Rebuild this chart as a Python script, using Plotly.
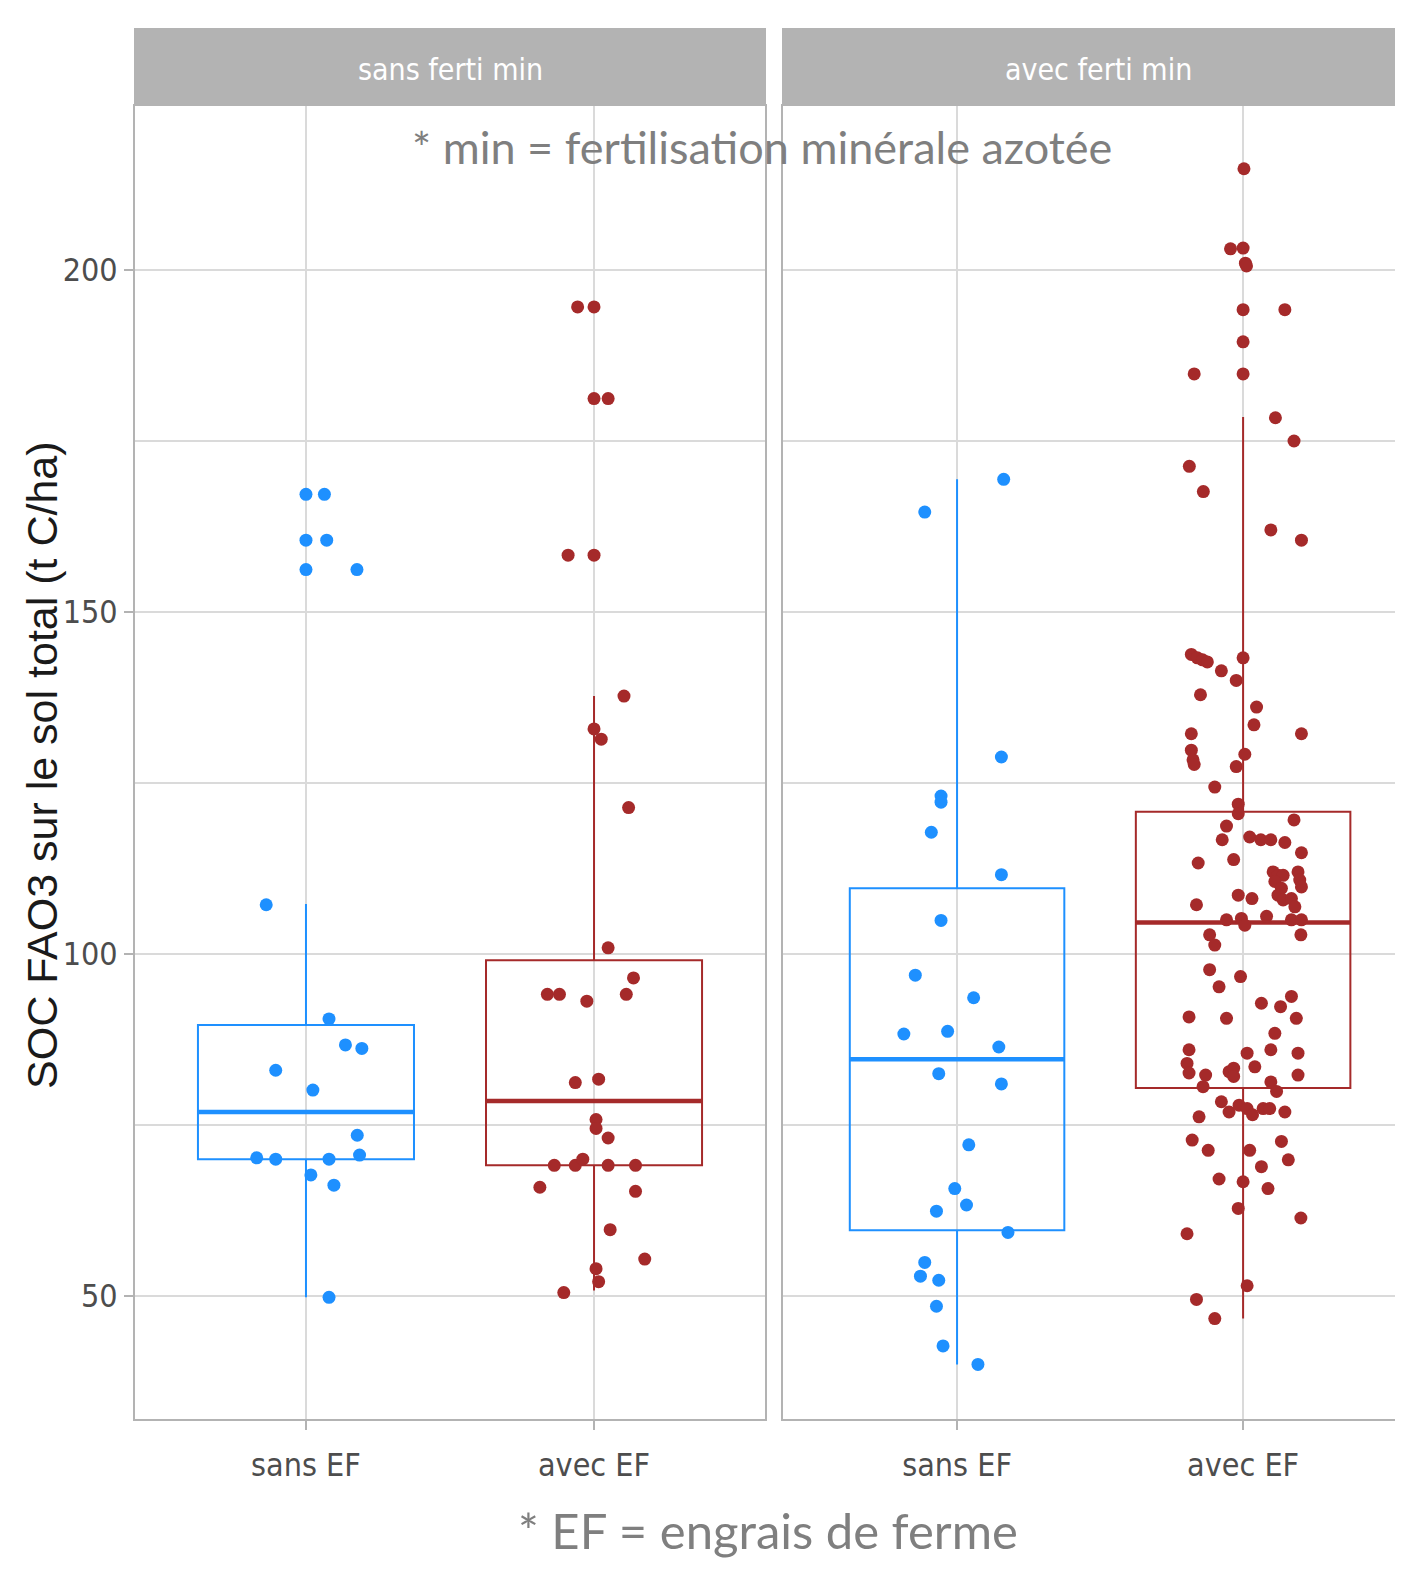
import plotly.graph_objects as go

# ---------------- data ----------------
facets = ["sans ferti min", "avec ferti min"]
categories = ["sans EF", "avec EF"]

# left facet (sans ferti min), sans EF
lse_y = [167.2, 167.2, 160.5, 160.5, 156.2, 156.2, 107.2, 90.5, 86.7, 86.2, 83.0, 80.1,
         73.5, 70.2, 70.0, 70.0, 70.6, 67.7, 66.2, 49.8]
lse_dx = [0, 0.064, 0, 0.072, 0, 0.177, -0.138, 0.080, 0.137, 0.194, -0.105, 0.024,
          0.178, -0.171, -0.105, 0.080, 0.186, 0.017, 0.097, 0.080]

# left facet, avec EF
lae_y = [194.6, 194.6, 181.2, 181.2, 158.3, 158.3, 137.7, 132.9, 131.4, 121.4, 100.9, 96.5,
         94.1, 94.1, 94.1, 93.1, 81.2, 81.7, 75.8, 74.5, 73.1, 69.1, 69.1, 70.0, 69.1, 69.1,
         65.9, 65.3, 59.7, 55.4, 54.0, 52.1, 50.5]
lae_dx = [-0.057, 0, 0, 0.049, -0.090, 0, 0.104, 0, 0.025, 0.120, 0.049, 0.137,
          -0.162, -0.120, 0.112, -0.025, -0.065, 0.016, 0.007, 0.007, 0.049, -0.138, -0.065,
          -0.039, 0.049, 0.144, -0.188, 0.144, 0.056, 0.176, 0.007, 0.016, -0.105]

# right facet (avec ferti min), sans EF
rse_y = [169.4, 164.6, 128.8, 123.1, 122.2, 117.8, 111.6, 104.9, 96.9, 93.6, 88.3, 88.7,
         86.4, 82.5, 81.0, 72.1, 65.7, 63.3, 62.4, 59.3, 54.9, 52.9, 52.3, 48.5, 42.7, 40.0]
rse_dx = [0.163, -0.113, 0.155, -0.056, -0.056, -0.090, 0.155, -0.056, -0.146, 0.058, -0.186,
          -0.033, 0.146, -0.064, 0.155, 0.041, -0.008, 0.033, -0.072, 0.178, -0.113, -0.128,
          -0.064, -0.072, -0.049, 0.073]

# right facet, avec EF
rae_y = [214.8, 203.1, 203.2, 201.0, 200.6, 194.2, 194.2, 189.5, 184.8, 184.8, 178.4, 175.0,
         171.3, 167.6, 162.0, 160.5,
         143.8, 143.3, 143.0, 142.7, 141.4, 140.0, 143.3, 137.9, 136.1, 133.5, 132.2, 132.2,
         129.8, 128.4, 127.7, 129.2, 127.4, 124.4, 121.9, 120.5, 119.6, 118.7, 116.7, 117.1,
         116.7, 116.7, 116.3, 114.8, 113.8, 113.3,
         112.0, 111.5, 111.5, 110.6, 112.0, 110.8, 109.8, 109.6, 108.6, 107.9, 108.1, 106.9,
         108.6, 108.1, 107.2, 105.0, 105.2, 104.2, 105.5, 105.0, 105.0, 102.8, 102.8, 101.3,
         97.7, 96.7, 95.2, 92.8, 92.3, 93.8, 90.8, 90.6, 90.6,
         88.4, 86.0, 85.5, 86.0, 85.5, 84.0, 83.5, 82.6, 82.3, 82.8, 83.3, 82.1, 82.3, 80.6,
         81.3, 79.9, 78.4, 76.9, 77.9, 77.4, 76.5, 77.4, 77.4, 76.9, 76.2, 72.8, 71.3, 71.3,
         72.6, 69.9, 68.9,
         67.1, 66.7, 65.7, 62.8, 61.4, 59.1, 51.5, 49.5, 46.7]
rae_dx = [0.003, -0.044, 0, 0.008, 0.012, 0, 0.146, 0, -0.171, 0, 0.113, 0.178,
          -0.188, -0.139, 0.097, 0.204,
          -0.181, -0.160, -0.142, -0.125, -0.076, -0.024, 0, -0.149, 0.047, 0.038, -0.181, 0.204,
          -0.181, -0.175, -0.171, 0.006, -0.024, -0.099, -0.017, -0.017, 0.178, -0.058, -0.073,
          0.023, 0.062, 0.097, 0.146, 0.204, -0.033, -0.157,
          0.105, 0.122, 0.140, 0.111, 0.192, 0.198, 0.204, 0.134, 0.122, 0.140, 0.169, 0.181,
          -0.017, 0.031, -0.163, -0.058, -0.006, 0.006, 0.082, 0.169, 0.204, 0.202, -0.117,
          -0.099, -0.117, -0.009, -0.084, 0.064, 0.131, 0.169, -0.189, -0.058, 0.186,
          0.111, -0.189, 0.192, 0.097, 0.014, -0.196, 0.041, -0.189, -0.131, -0.049, -0.033,
          -0.033, 0.192, -0.140, 0.097, 0.117, -0.076, -0.049, -0.014, 0.014, 0.033, 0.070,
          0.093, 0.146, -0.154, -0.178, -0.122, 0.023, 0.134, 0.158, 0.064,
          -0.084, 0, 0.087, -0.017, 0.202, -0.196, 0.014, -0.163, -0.099]

# box statistics (as drawn): [left sans EF, left avec EF, right sans EF, right avec EF]
box_q1 = [70.0, 69.1, 59.6, 80.4]
box_median = [76.9, 78.5, 84.6, 104.6]
box_q3 = [89.6, 99.1, 109.6, 120.8]
box_low = [49.8, 50.8, 40.0, 46.7]
box_high = [107.3, 137.7, 169.4, 178.5]

BLUE = "#1E90FF"
RED = "#A52A2A"
GRID = "#DADADA"
BORDER = "#B3B3B3"
NARROW = "Liberation Sans Narrow, Arial Narrow, DejaVu Sans Condensed, Liberation Sans, sans-serif"

groups = [
    ("x", "y", 0, lse_y, lse_dx, BLUE, 0),
    ("x", "y", 1, lae_y, lae_dx, RED, 1),
    ("x2", "y2", 0, rse_y, rse_dx, BLUE, 2),
    ("x2", "y2", 1, rae_y, rae_dx, RED, 3),
]
BOXW = 0.75

fig = go.Figure()
for xa, ya, ci, ys, dxs, col, si in groups:
    fig.add_trace(go.Box(
        x=[ci], q1=[box_q1[si]], median=[box_median[si]], q3=[box_q3[si]],
        lowerfence=[box_low[si]], upperfence=[box_high[si]],
        width=BOXW, whiskerwidth=0, boxpoints=False,
        line=dict(color=col, width=2), fillcolor="rgba(0,0,0,0)",
        xaxis=xa, yaxis=ya, hoverinfo="skip"))
    fig.add_trace(go.Scatter(
        x=[ci - BOXW / 2, ci + BOXW / 2], y=[box_median[si]] * 2, mode="lines",
        line=dict(color=col, width=4.5), xaxis=xa, yaxis=ya, hoverinfo="skip"))
for xa, ya, ci, ys, dxs, col, si in groups:
    fig.add_trace(go.Scatter(
        x=[ci + d for d in dxs], y=ys, mode="markers",
        marker=dict(color=col, size=13, line=dict(width=0)),
        xaxis=xa, yaxis=ya))

# page has an 8px body margin: figure is placed at (8, 8) on the screen
OFF = 8
W, H = 1403 - OFF, 1570 - 2 * OFF
def px(s):
    return (s - OFF) / W
def py(s):
    return (H - (s - OFF)) / H

L0, L1, R0, R1 = 134, 766, 782, 1414
TOP, BOT, STRIP_TOP = 105, 1420, 28

xcommon = dict(
    tickvals=[0, 1], ticktext=categories, showgrid=True, gridcolor=GRID, gridwidth=1.8,
    zeroline=False, ticks="outside", ticklen=9, tickwidth=2, tickcolor=BORDER,
    tickfont=dict(family=NARROW, size=32, color="#4D4D4D"), showline=False,
    ticklabelstandoff=8,
)
ycommon = dict(
    range=[31.87, 224.12], domain=[py(BOT), py(TOP)], tickvals=[50, 100, 150, 200],
    showgrid=True, gridcolor=GRID, gridwidth=1.8, zeroline=False,
    minor=dict(tickvals=[75, 125, 175], showgrid=True, gridcolor=GRID, gridwidth=1.5, ticks=""),
    showline=False,
)

fig.update_layout(
    width=W, height=H, margin=dict(l=0, r=0, t=0, b=0),
    paper_bgcolor="white", plot_bgcolor="white", showlegend=False,
    xaxis=dict(domain=[px(L0), px(L1)], range=[-0.597, 1.597], anchor="y", **xcommon),
    xaxis2=dict(domain=[px(R0), 1.0], range=[-0.612, 1.559], anchor="y2", **xcommon),
    yaxis=dict(anchor="x", ticks="outside", ticklen=9, tickwidth=2, tickcolor=BORDER,
               tickfont=dict(family=NARROW, size=32, color="#4D4D4D"), **ycommon),
    yaxis2=dict(anchor="x2", matches="y", showticklabels=False, ticks="", **ycommon),
)

shapes = []
for a, b in [(L0, L1), (R0, R1)]:
    shapes.append(dict(type="rect", xref="paper", yref="paper", x0=px(a), x1=px(b),
                       y0=py(TOP), y1=py(STRIP_TOP), fillcolor=BORDER, line=dict(width=0),
                       layer="above"))
    shapes.append(dict(type="rect", xref="paper", yref="paper", x0=px(a), x1=px(b),
                       y0=py(BOT), y1=py(TOP), fillcolor="rgba(0,0,0,0)",
                       line=dict(color=BORDER, width=2), layer="above"))
fig.update_layout(shapes=shapes)

ann = []
for (a, b), name in zip([(L0, L1), (R0, R1)], facets):
    ann.append(dict(x=px((a + b) / 2), y=py(70), xref="paper", yref="paper", text=name,
                    showarrow=False, xanchor="center", yanchor="middle",
                    font=dict(family=NARROW, size=30, color="white")))
ann.append(dict(x=px(42), y=py(765), xref="paper", yref="paper",
                text="SOC FAO3 sur le sol total (t C/ha)", textangle=-90, showarrow=False,
                xanchor="center", yanchor="middle",
                font=dict(family="Liberation Sans, Arial, sans-serif", size=43, color="#1A1A1A")))
ann.append(dict(x=px(762), y=py(147), xref="paper", yref="paper",
                text="* min = fertilisation minérale azotée", showarrow=False,
                xanchor="center", yanchor="middle",
                font=dict(family="Lato, Open Sans, sans-serif", size=45, color="#7F7F7F")))
ann.append(dict(x=px(768), y=py(1530), xref="paper", yref="paper",
                text="* EF = engrais de ferme", showarrow=False,
                xanchor="center", yanchor="middle",
                font=dict(family="Lato, Open Sans, sans-serif", size=49, color="#7F7F7F")))
fig.update_layout(annotations=ann)

fig.write_html("out.html")
